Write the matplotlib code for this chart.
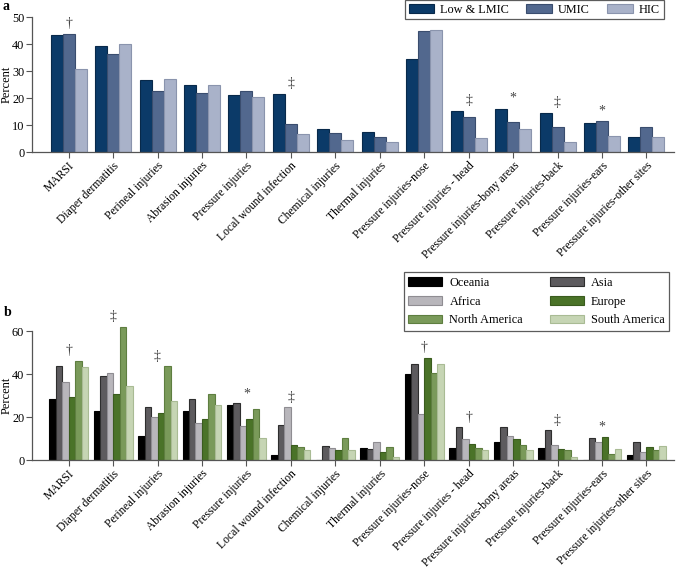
import matplotlib.pyplot as plt
import numpy as np

plt.rcParams['font.family'] = ['Liberation Serif', 'DejaVu Serif']

categories = ['MARSI', 'Diaper dermatitis', 'Perineal injuries', 'Abrasion injuries',
              'Pressure injuries', 'Local wound infection', 'Chemical injuries',
              'Thermal injuries', 'Pressure injuries-nose', 'Pressure injuries - head',
              'Pressure injuries-bony areas', 'Pressure injuries-back',
              'Pressure injuries-ears', 'Pressure injuries-other sites']

# Panel a: by income level
income_groups = ['Low & LMIC', 'UMIC', 'HIC']
low_lmic = [43.4, 39.3, 26.8, 25.0, 21.0, 21.6, 8.6, 7.3, 34.3, 15.4, 16.0, 14.6, 10.8, 5.7]
umic = [43.6, 36.2, 22.7, 21.9, 22.8, 10.4, 7.0, 5.8, 44.9, 13.0, 11.0, 9.4, 11.5, 9.4]
hic = [30.6, 39.9, 27.1, 25.0, 20.5, 6.7, 4.7, 3.6, 45.2, 5.1, 8.7, 3.6, 5.9, 5.5]
marks_a = ['†', '', '', '', '', '‡', '', '', '', '‡', '*', '‡', '*', '']

# Panel b: by region
regions = ['Oceania', 'Asia', 'Africa', 'Europe', 'North America', 'South America']
oceania = [28.4, 22.6, 11.2, 22.6, 25.4, 2.5, 0, 5.4, 39.8, 5.4, 8.2, 5.5, 0, 2.5]
asia = [43.6, 39.2, 24.5, 28.4, 26.4, 16.3, 6.5, 5.0, 44.5, 15.2, 15.2, 14.0, 10.4, 8.4]
africa = [36.1, 40.5, 19.8, 17.1, 15.7, 24.5, 5.4, 8.2, 21.4, 9.8, 11.1, 6.8, 8.2, 3.9]
europe = [29.1, 30.7, 21.7, 19.1, 18.9, 6.8, 4.7, 3.6, 47.6, 7.6, 9.6, 5.0, 10.7, 6.2]
north_america = [46.2, 62.0, 43.7, 30.5, 23.7, 6.2, 10.4, 6.2, 40.3, 5.4, 6.9, 4.7, 2.9, 4.7]
south_america = [43.1, 34.4, 27.4, 25.4, 10.1, 4.8, 4.8, 1.2, 44.8, 4.8, 4.9, 1.4, 5.0, 6.5]
marks_b = ['†', '‡', '‡', '', '*', '‡', '', '', '†', '†', '', '‡', '*', '']

colors_a = ['#0b3a68', '#52688e', '#a9b2c9']
edges_a = ['#08294a', '#3a4d6e', '#8a94ad']
colors_b = ['#000000', '#5d5b5e', '#b8b6bb', '#4a7328', '#7a9a5a', '#c6d5b4']
edges_b = ['#000000', '#2e2e2e', '#8f8d92', '#3a5c1e', '#5e7e40', '#a9bb94']

x = np.arange(len(categories))

fig = plt.figure(figsize=(6.76, 5.68), dpi=100)
ax1 = fig.add_axes([0.047, 0.732, 0.950, 0.238])
ax2 = fig.add_axes([0.047, 0.190, 0.950, 0.2386])


def style_axis(ax, top, ymax, step):
    for s in ['top', 'right']:
        ax.spines[s].set_visible(False)
    for s in ['left', 'bottom']:
        ax.spines[s].set_color('#555555')
        ax.spines[s].set_linewidth(0.9)
    ax.set_xlim(-0.83, 13.62)
    ax.set_ylim(0, ymax)
    ax.spines['left'].set_bounds(0, top)
    ax.set_yticks(np.arange(0, top + 1, step))
    ax.tick_params(axis='both', direction='out', length=4, color='#555555',
                   labelsize=8.8, pad=1.5)
    ax.set_xticks(x)
    ax.set_xticklabels(categories, rotation=45, ha='right',
                       rotation_mode='anchor', fontsize=8.4)
    ax.set_ylabel('Percent', fontsize=9)
    # keep the label clear of the tick numbers, in pixels from the spine
    ax.yaxis.set_label_coords(-19.5 / (ax.get_position().width * 676), top / 2 / ymax)


# panel a
w = 0.27
series_a = [low_lmic, umic, hic]
handles_a = []
for i, vals in enumerate(series_a):
    b = ax1.bar(x + (i - 1) * w, vals, w, color=colors_a[i], edgecolor=edges_a[i],
                linewidth=0.8, label=income_groups[i])
    handles_a.append(b)
style_axis(ax1, 50, 50, 10)
for i, m in enumerate(marks_a):
    if m:
        top = max(low_lmic[i], umic[i], hic[i])
        ax1.text(x[i], top + 1.5, m, ha='center', va='bottom', fontsize=10,
                 color='#444444')
leg1 = ax1.legend(handles=handles_a, ncol=3, loc='upper right',
                  bbox_to_anchor=(0.984, 1.126), frameon=True, fancybox=False,
                  edgecolor='#333333', fontsize=8.8, handlelength=2.1,
                  handleheight=0.85, handletextpad=0.5, columnspacing=1.4,
                  borderpad=0.3, borderaxespad=0)
leg1.get_frame().set_linewidth(0.9)
fig.text(0.003, 0.988, 'a', fontsize=10, fontweight='bold', va='center')

# panel b
wb = 0.146
series_b = [oceania, asia, africa, europe, north_america, south_america]
handles_b = []
for i, vals in enumerate(series_b):
    b = ax2.bar(x + (i - 2.5) * wb, vals, wb, color=colors_b[i], edgecolor=edges_b[i],
                linewidth=0.8, label=regions[i])
    handles_b.append(b)
style_axis(ax2, 60, 63, 20)
for i, m in enumerate(marks_b):
    if m:
        top = max(s[i] for s in series_b)
        ax2.text(x[i], top + 1.5, m, ha='center', va='bottom', fontsize=10,
                 color='#444444', clip_on=False)
# row-wise order for a two-column legend
order = [0, 2, 4, 1, 3, 5]
leg2 = ax2.legend(handles=[handles_b[k] for k in order], ncol=2, loc='upper right',
                  bbox_to_anchor=(0.993, 1.388), frameon=True, fancybox=False,
                  edgecolor='#333333', fontsize=8.8, handlelength=2.75,
                  handleheight=0.7, handletextpad=0.6, columnspacing=2.2,
                  labelspacing=0.55, borderpad=0.4, borderaxespad=0)
leg2.get_frame().set_linewidth(0.9)
fig.text(0.006, 0.449, 'b', fontsize=10, fontweight='bold', va='center')

fig.savefig('out.png', dpi=100)
